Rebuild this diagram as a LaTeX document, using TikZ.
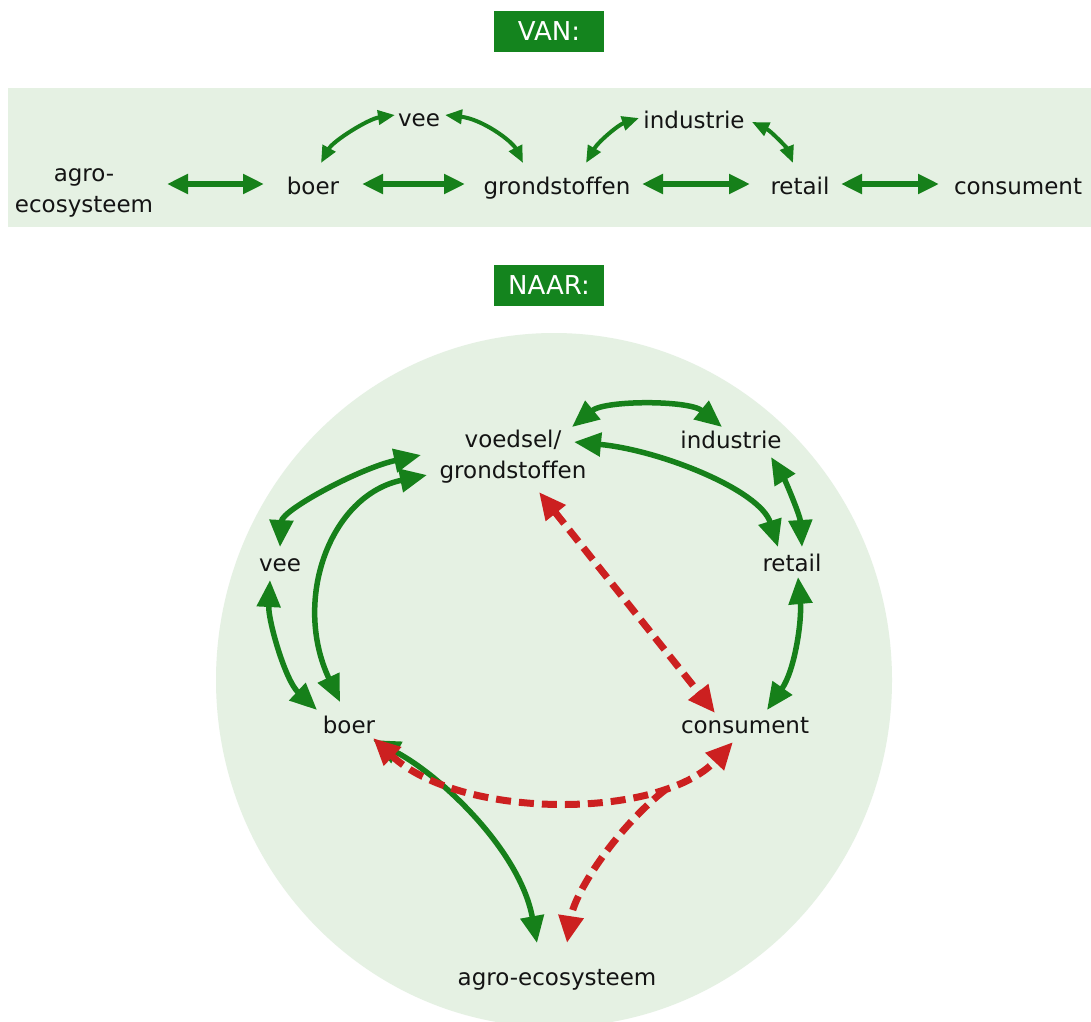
\documentclass[tikz,border=0pt]{standalone}
\usepackage{fontspec}
\setmainfont{DejaVu Sans}[Ligatures=NoCommon]
\usetikzlibrary{arrows.meta,calc}
\definecolor{mygreen}{RGB}{22,128,26}
\definecolor{boxgreen}{RGB}{20,132,30}
\definecolor{myred}{RGB}{204,32,32}
\definecolor{bgpale}{RGB}{229,241,227}
\definecolor{txt}{RGB}{20,20,20}
\begin{document}
\begin{tikzpicture}[x=1pt,y=-1pt,
  lab/.style={inner sep=0pt, font=\fontsize{23}{31}\selectfont, text=txt, anchor=base},
  lab2/.style={inner sep=0pt, font=\fontsize{23}{31}\selectfont, text=txt, align=center},
  titlebox/.style={fill=boxgreen, text=white, inner sep=0pt, minimum width=110pt, minimum height=41pt, font=\fontsize{26}{30}\selectfont},
  straightarr/.style={draw=mygreen, line width=5.5pt, {Triangle[length=21pt,width=19pt]}-{Triangle[length=21pt,width=19pt]}},
  smallarr/.style={draw=mygreen, line width=4pt, {Triangle[length=17pt,width=14pt]}-{Triangle[length=17pt,width=14pt]}},
  garr/.style={draw=mygreen, line width=5.5pt, {Triangle[length=27pt,width=23pt]}-{Triangle[length=27pt,width=23pt]}},
  rarr/.style={draw=myred, line width=7pt, dash pattern=on 15pt off 8pt, {Triangle[length=27pt,width=24pt]}-{Triangle[length=27pt,width=24pt]}},
  rarrone/.style={draw=myred, line width=7pt, dash pattern=on 15pt off 8pt, -{Triangle[length=27pt,width=24pt]}}
]
\useasboundingbox (0,0) rectangle (1091,1021);
\clip (0,0) rectangle (1091,1021);
\fill[white] (0,0) rectangle (1091,1021);

% backgrounds
\fill[bgpale] (8,88) rectangle (1091,227);
\fill[bgpale] (554,680) ellipse [x radius=338pt, y radius=347pt];

% title boxes
\node[titlebox] (van) at (549,31.5) {VAN:};
\node[titlebox] (naar) at (549,285.5) {NAAR:};

% ---------- top: VAN ----------
\node[lab2] (tagro) at (84,193) {agro-\\ecosysteem};
\node[lab] (tboer) at (313,194) {boer};
\node[lab] (tgrond) at (557,194) {grondstoffen};
\node[lab] (tretail) at (800,194) {retail};
\node[lab] (tcons) at (1018,194) {consument};
\node[lab] (tvee) at (419,126) {vee};
\node[lab] (tind) at (694,128) {industrie};

\draw[straightarr] ($(tagro.center)+(83,-9)$) -- ($(tboer.base)+(-49,-10)$);
\draw[straightarr] ($(tboer.base)+(49,-10)$) -- ($(tgrond.base)+(-92,-10)$);
\draw[straightarr] ($(tgrond.base)+(85,-10)$) -- ($(tretail.base)+(-50,-10)$);
\draw[straightarr] ($(tretail.base)+(41,-10)$) -- ($(tcons.base)+(-79,-10)$);

\draw[smallarr] ($(tboer.base)+(8,-31)$) .. controls (333,141) and (368,119) .. ($(tvee.base)+(-24,-11)$);
\draw[smallarr] ($(tvee.base)+(26,-11)$) .. controls (482,119) and (512,141) .. ($(tgrond.base)+(-34,-31)$);
\draw[smallarr] ($(tgrond.base)+(29,-31)$) .. controls (598,142) and (618,125) .. ($(tind.base)+(-55,-10)$);
\draw[smallarr] ($(tind.base)+(58,-6)$) .. controls (771,131) and (787,148) .. ($(tretail.base)+(-7,-31)$);

% ---------- bottom: NAAR ----------
\node[lab2] (voedsel) at (513,456.5) {voedsel/\\grondstoffen};
\node[lab] (industrie) at (731,448) {industrie};
\node[lab] (vee) at (280,571) {vee};
\node[lab] (retail) at (792,571) {retail};
\node[lab] (boer) at (349,733) {boer};
\node[lab] (consument) at (745,733) {consument};
\node[lab] (agro) at (557,985) {agro-ecosysteem};

% green connectors
\draw[garr] ($(voedsel.center)+(59,-29.5)$) .. controls (605,400) and (689,400) .. ($(industrie.base)+(-9,-21)$);
\draw[garr] ($(voedsel.center)+(61,-14.5)$) .. controls (660,450) and (760,490) .. ($(retail.base)+(-14,-24)$);
\draw[garr] ($(industrie.base)+(40,9)$) .. controls (785,480) and (800,515) .. ($(retail.base)+(10,-24)$);
\draw[garr] ($(vee.base)+(0,-24)$) .. controls (282,510) and (360,468) .. ($(voedsel.center)+(-92,-1.5)$);
\draw[garr] ($(boer.base)+(-9,-31)$) .. controls (292,600) and (330,495) .. ($(voedsel.center)+(-86,18.5)$);
\draw[garr] ($(vee.base)+(-10,9)$) .. controls (268,620) and (285,680) .. ($(boer.base)+(-32,-23)$);
\draw[garr] ($(retail.base)+(6,6)$) .. controls (802,620) and (795,670) .. ($(consument.base)+(22,-23)$);
\draw[garr] ($(boer.base)+(24,7)$) .. controls (440,775) and (520,850) .. ($(agro.base)+(-20,-42)$);

% red dashed connectors
\draw[rarr] ($(voedsel.center)+(26,35.5)$) -- ($(consument.base)+(-30,-20)$);
\draw[rarr] ($(boer.base)+(24,5)$) .. controls (460,820) and (660,820) .. ($(consument.base)+(-12,9)$);
\coordinate (branch) at (665,790);
\draw[rarrone] (branch) .. controls (620,825) and (575,890) .. ($(agro.base)+(10,-42)$);
\end{tikzpicture}
\end{document}
